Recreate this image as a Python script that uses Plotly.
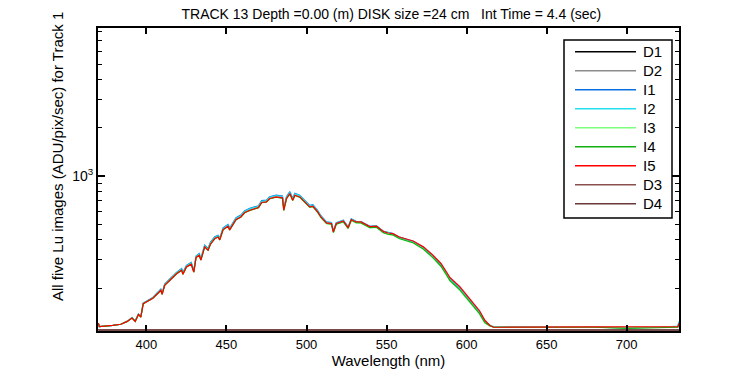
import plotly.graph_objects as go

# ---------------- data ----------------
wavelength = [370.0, 370.6, 379, 384, 388, 391, 393, 395, 396.5, 398, 401, 404, 407, 409, 409.8,
              411.4, 415.6, 418.8, 422, 422.8, 425, 428, 429.6, 431, 433, 434, 436.4, 438.5, 440,
              442.7, 444.8, 445.8, 447.9, 451, 452, 454, 456, 459, 461.4, 464.6, 467.7, 470, 472,
              475, 477, 481, 485, 485.8, 487.5, 489.6, 491.4, 492.7, 495.8, 499, 502, 504, 507,
              509, 512.5, 515.6, 516.8, 518.6, 523, 526, 528, 531, 534, 539.6, 543.7, 548, 551,
              554, 558, 566.6, 573, 579, 584, 587.5, 589.6, 595.8, 602, 608, 611.4, 614.6, 617,
              640, 660, 680, 700, 720, 732, 732.7]

I5 = [121, 115, 117, 119, 124, 130, 124, 137, 132, 160, 166, 173, 185, 194, 183,
      208, 229, 246, 259, 244, 271, 282, 252, 310, 321, 299, 362, 345, 376,
      408, 417, 400, 464, 487, 462, 501, 536, 556, 593, 613, 628, 637, 685,
      691, 725, 742, 732, 613, 725, 779, 708, 761, 742, 691, 643, 649, 598,
      556, 511, 506, 449, 506, 525, 477, 536, 518, 518, 484, 487, 452, 442,
      438, 417, 394, 362, 321, 285, 252, 233, 204, 172, 145, 126, 117, 114,
      114, 114, 114, 114, 114, 115, 121]

I1 = [121, 115, 117, 119, 124, 131, 125, 138, 133, 161, 168, 175, 188, 197, 186,
      212, 233, 251, 265, 250, 277, 289, 258, 317, 329, 306, 371, 354, 386,
      418, 428, 410, 476, 500, 474, 514, 550, 571, 609, 630, 645, 654, 703,
      709, 744, 762, 751, 629, 744, 800, 727, 781, 760, 707, 657, 663, 610,
      566, 519, 513, 455, 513, 531, 482, 541, 522, 521, 486, 489, 453, 443,
      438, 416, 392, 360, 318, 281, 248, 229, 200, 169, 143, 125, 117, 114,
      114, 114, 114, 113, 114, 115, 123]

I2 = [120, 115, 117, 119, 124, 131, 125, 137, 133, 161, 167, 174, 187, 196, 185,
      211, 232, 250, 263, 248, 275, 287, 256, 315, 327, 304, 368, 351, 383,
      415, 425, 407, 472, 496, 470, 510, 546, 566, 604, 625, 640, 649, 697,
      704, 739, 757, 746, 625, 739, 794, 722, 776, 756, 703, 653, 659, 607,
      563, 517, 511, 453, 511, 530, 481, 540, 521, 520, 486, 489, 453, 443,
      438, 416, 392, 360, 318, 281, 248, 229, 200, 169, 143, 125, 117, 115,
      114, 114, 114, 113, 114, 116, 124]

I3 = [120, 115, 117, 119, 124, 130, 124, 137, 132, 160, 166, 173, 185, 193, 183,
      208, 229, 246, 259, 244, 271, 282, 252, 310, 321, 299, 362, 345, 376,
      408, 417, 400, 463, 486, 461, 500, 535, 555, 591, 611, 626, 635, 683,
      689, 722, 739, 729, 611, 722, 775, 705, 757, 738, 687, 639, 645, 593,
      551, 505, 500, 444, 500, 518, 471, 529, 511, 510, 476, 479, 443, 433,
      429, 407, 383, 350, 309, 273, 241, 222, 194, 163, 138, 121, 116, 114,
      114, 114, 114, 113, 114, 115, 119]

I4 = [120, 115, 117, 119, 124, 130, 124, 137, 132, 160, 166, 173, 185, 193, 183,
      208, 229, 246, 259, 244, 271, 282, 252, 310, 321, 299, 362, 345, 376,
      408, 417, 400, 463, 486, 461, 500, 535, 555, 592, 612, 627, 636, 684,
      690, 723, 740, 730, 612, 723, 776, 706, 758, 739, 688, 640, 646, 594,
      552, 506, 501, 445, 501, 519, 472, 530, 512, 511, 477, 480, 444, 434,
      430, 408, 384, 351, 310, 274, 242, 223, 195, 164, 139, 122, 116, 114,
      114, 114, 114, 112, 113, 114, 118]

wavelength_dark = [370, 380, 385, 386, 390, 391, 394, 395, 410, 415, 416, 418, 419, 430,
                   515, 520, 521, 560, 600, 650, 690, 700, 705, 710, 715, 720, 733]
D1 = [110, 110, 110, 111, 110, 111, 110, 110, 110, 110, 111, 110, 111, 110,
      110, 110, 111, 110, 110, 110, 110, 110, 110.5, 110, 110.5, 110, 110]
D2 = [110, 110, 110, 110, 110, 110.5, 110, 110, 110, 110, 110, 110.5, 110, 110,
      110, 110.5, 110, 110, 110, 110, 110, 110, 110, 110.5, 110, 110, 110]
D3 = [109.6, 109.6, 109.6, 109.6, 109.6, 109.6, 109.6, 109.6, 109.6, 109.6, 109.6, 109.6, 109.6, 109.6,
      109.6, 109.6, 109.6, 109.6, 109.6, 109.6, 109.6, 109.6, 109.6, 109.6, 109.6, 109.6, 109.6]
D4 = [109.5, 109.5, 109.5, 109.5, 109.5, 109.5, 109.5, 109.5, 109.5, 109.5, 109.5, 109.5, 109.5, 109.5,
      109.5, 109.5, 109.5, 109.5, 109.5, 109.5, 109.5, 109.5, 109.5, 109.5, 109.5, 109.5, 109.5]

series_names = ["D1", "D2", "I1", "I2", "I3", "I4", "I5", "D3", "D4"]
x_tick_vals = [400, 450, 500, 550, 600, 650, 700]
y_major_vals = [1000]
y_major_text = ["10<sup>3</sup>"]
y_minor_vals = [200, 300, 400, 500, 600, 700, 800, 900,
                2000, 3000, 4000, 5000, 6000, 7000, 8000]

# ---------------- styles ----------------
colors = {"D1": "#000000", "D2": "#8c8c8c", "I1": "#0a6fe0", "I2": "#22e0f0",
          "I3": "#7dff7d", "I4": "#10b010", "I5": "#ff0000", "D3": "#8a5050", "D4": "#6a3838"}
series = {"D1": (wavelength_dark, D1), "D2": (wavelength_dark, D2),
          "I1": (wavelength, I1), "I2": (wavelength, I2), "I3": (wavelength, I3),
          "I4": (wavelength, I4), "I5": (wavelength, I5),
          "D3": (wavelength_dark, D3), "D4": (wavelength_dark, D4)}

FONT = "Liberation Sans, Arial, sans-serif"
W, H = 750, 375
L, R, T, B = 98, 71, 28, 44
PW, PH = W - L - R, H - T - B


def px(xp):
    return (xp - L) / PW


def py(yp):
    return (H - B - yp) / PH


fig = go.Figure()
for name in series_names:
    xs, ys = series[name]
    fig.add_trace(go.Scatter(x=xs, y=ys, mode="lines", name=name,
                             line=dict(color=colors[name], width=1.2),
                             showlegend=False))

# manual legend
shapes = [dict(type="rect", xref="paper", yref="paper", x0=px(564), x1=px(672),
               y0=py(218), y1=py(40), line=dict(color="black", width=1.5),
               fillcolor="white", layer="above")]
annotations = []
for i, name in enumerate(series_names):
    yy = 51.7 + 19 * i
    shapes.append(dict(type="line", xref="paper", yref="paper", x0=px(575), x1=px(636),
                       y0=py(yy), y1=py(yy), line=dict(color=colors[name], width=1.5),
                       layer="above"))
    annotations.append(dict(text=name, xref="paper", yref="paper", x=px(641), y=py(yy),
                            xanchor="left", yanchor="middle", showarrow=False,
                            font=dict(family=FONT, size=15, color="black")))

annotations.append(dict(text="All five Lu images (ADU/pix/sec) for Track 1", textangle=-90,
                        xref="paper", yref="paper", x=px(57), y=py(157),
                        xanchor="center", yanchor="middle", showarrow=False,
                        font=dict(family=FONT, size=15, color="black")))

fig.update_layout(
    width=W, height=H,
    margin=dict(l=L, r=R, t=T, b=B, pad=0, autoexpand=False),
    paper_bgcolor="white", plot_bgcolor="white",
    font=dict(family=FONT, size=13, color="black"),
    title=dict(text="TRACK 13 Depth =0.00 (m) DISK size =24 cm   Int Time = 4.4 (sec)",
               xref="paper", x=0.505, xanchor="center", yref="container", y=1 - 14 / H,
               yanchor="middle", font=dict(family=FONT, size=14, color="black")),
    shapes=shapes, annotations=annotations,
    showlegend=False,
)
fig.update_xaxes(range=[369.75, 732.7], showgrid=False, zeroline=False,
                 showline=True, linecolor="black", linewidth=2, mirror="allticks",
                 ticks="inside", ticklen=6, tickwidth=1.5, tickcolor="black",
                 tickmode="array", tickvals=x_tick_vals,
                 tickfont=dict(family=FONT, size=13),
                 title=dict(text="Wavelength (nm)", font=dict(family=FONT, size=15), standoff=2))
fig.update_yaxes(type="log", range=[2.0334, 3.925], showgrid=False, zeroline=False,
                 showline=True, linecolor="black", linewidth=2, mirror="allticks",
                 ticks="inside", ticklen=7, tickwidth=1.5, tickcolor="black",
                 tickmode="array", tickvals=y_major_vals, ticktext=y_major_text,
                 tickfont=dict(family=FONT, size=14),
                 minor=dict(tickmode="array", tickvals=y_minor_vals, ticks="inside",
                            ticklen=4, tickwidth=1.2, tickcolor="black", showgrid=False))

fig.write_html("out.html", config={"displayModeBar": False},
               post_script="document.body.style.margin='0';document.body.style.padding='0';")
